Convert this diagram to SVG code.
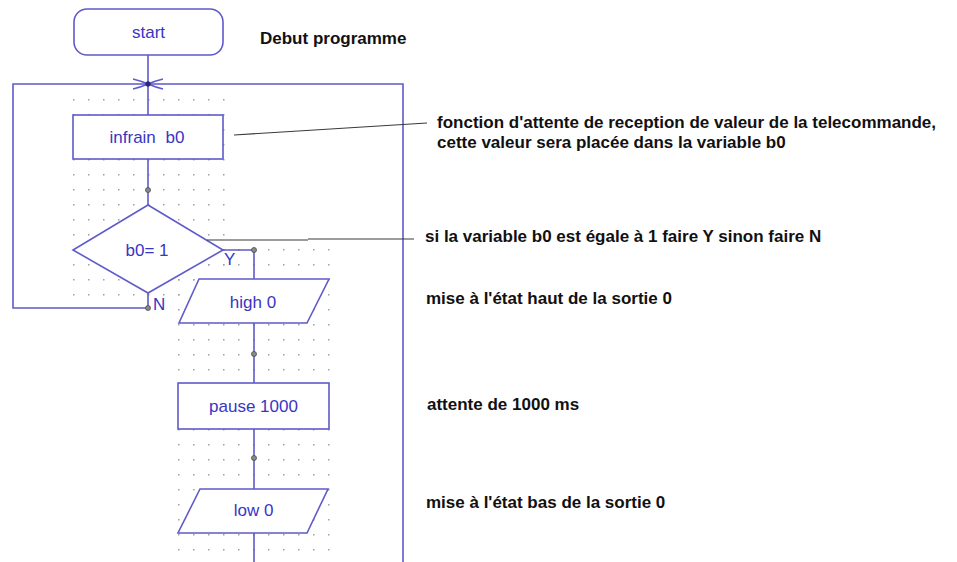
<svg xmlns="http://www.w3.org/2000/svg" width="957" height="562" viewBox="0 0 957 562">
  <style>
    .shape { fill: #ffffff; stroke: #5f5bca; stroke-width: 1.6; }
    .wire { fill: none; stroke: #5f5bca; stroke-width: 1.6; }
    .label { font-family: "Liberation Sans", Arial, sans-serif; font-size: 17px; fill: #3a34c4; text-anchor: middle; }
    .flag { font-family: "Liberation Sans", Arial, sans-serif; font-size: 17px; fill: #3a34c4; }
    .note { font-family: "Liberation Sans", Arial, sans-serif; font-size: 17px; font-weight: bold; fill: #111111; }
    .leader { fill: none; stroke: #3a3a3a; stroke-width: 1.1; }
    .joint { fill: #8a8a8a; stroke: #4a4a4a; stroke-width: 0.8; }
  </style>
  <defs>
    <!-- editor snap grid -->
    <pattern id="grid" x="73" y="99" width="15" height="15" patternUnits="userSpaceOnUse">
      <rect x="0" y="0" width="1.5" height="1.5" fill="#a0a0a0"/>
    </pattern>
  </defs>

  <rect width="957" height="562" fill="#ffffff"/>

  <!-- grid areas around the flowchart columns -->
  <g id="grid-areas">
    <rect x="72" y="97" width="153" height="200" fill="url(#grid)"/>
    <rect x="176" y="246" width="158" height="316" fill="url(#grid)"/>
  </g>

  <!-- connectors -->
  <g id="connectors">
    <path class="wire" d="M148,55 V115"/>
    <path class="wire" d="M148,308 H13 V84 H403 V562"/>
    <path class="wire" d="M148,159 V205"/>
    <path class="wire" d="M223,250 H254 V279"/>
    <path class="wire" d="M148,293 V308"/>
    <path class="wire" d="M254,323 V383"/>
    <path class="wire" d="M254,429 V489"/>
    <path class="wire" d="M254,533 V562"/>
    <!-- loop junction mark -->
    <path class="wire" stroke-width="1.3" d="M133,79 Q141,81 148,84 Q155,81 163,79 M133,89 Q141,87 148,84 Q155,87 163,89"/>
    <circle cx="148" cy="84" r="2.3" fill="#2a2a7a" stroke="#2a2a7a"/>
    <circle class="joint" cx="148" cy="190" r="2.5"/>
    <circle class="joint" cx="254" cy="250" r="2.5"/>
    <circle class="joint" cx="148" cy="308" r="2.5"/>
    <circle class="joint" cx="254" cy="354" r="2.5"/>
    <circle class="joint" cx="254" cy="458" r="2.5"/>
    <text class="flag" x="224" y="265">Y</text>
    <text class="flag" x="153" y="310">N</text>
  </g>

  <!-- nodes -->
  <g id="start">
    <rect class="shape" x="74" y="9" width="149" height="46" rx="13" ry="13"/>
    <text class="label" x="148.5" y="38">start</text>
  </g>
  <g id="infrain">
    <rect class="shape" x="73" y="115" width="150" height="44"/>
    <text class="label" x="147" y="143">infrain <tspan dx="5">b0</tspan></text>
  </g>
  <g id="test-b0">
    <polygon class="shape" points="148,205 223,250 148,293 73,250"/>
    <text class="label" x="147" y="256">b0= 1</text>
  </g>
  <g id="high0">
    <polygon class="shape" points="199,279 329,279 307,323 179,323"/>
    <text class="label" x="253" y="308">high 0</text>
  </g>
  <g id="pause1000">
    <rect class="shape" x="178" y="383" width="151" height="46"/>
    <text class="label" x="253.5" y="412">pause 1000</text>
  </g>
  <g id="low0">
    <polygon class="shape" points="200,489 328,489 307,533 178,533"/>
    <text class="label" x="253.5" y="516">low 0</text>
  </g>

  <!-- comments -->
  <g id="notes">
    <text class="note" x="260" y="44">Debut programme</text>
    <path class="leader" d="M234,135 L427,123"/>
    <text class="note" x="437" y="128">fonction d'attente de reception de valeur de la telecommande,</text>
    <text class="note" x="437" y="148">cette valeur sera placée dans la variable b0</text>
    <path class="leader" stroke="#666666" d="M207,240 H308 M308,239 H414"/>
    <text class="note" x="425" y="242">si la variable b0 est égale à 1 faire Y sinon faire N</text>
    <text class="note" x="426" y="304">mise à l'état haut de la sortie 0</text>
    <text class="note" x="427" y="410">attente de 1000 ms</text>
    <text class="note" x="426" y="508">mise à l'état bas de la sortie 0</text>
  </g>
</svg>
